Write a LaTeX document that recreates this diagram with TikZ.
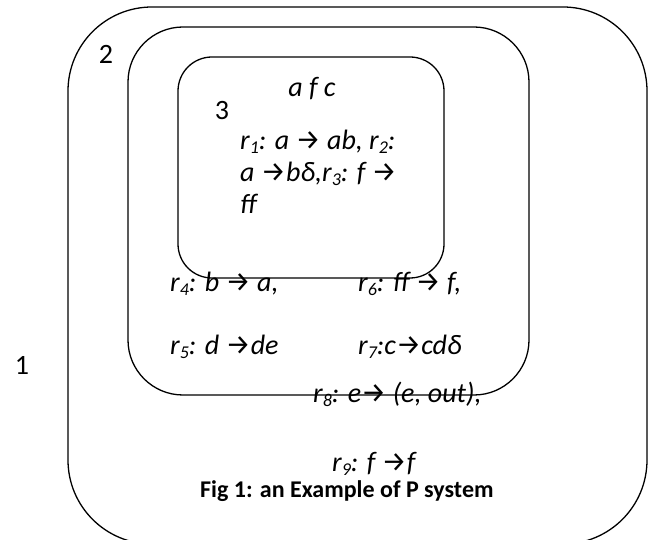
\documentclass[tikz,border=0pt]{standalone}
\usepackage{fontspec}
\setmainfont{Carlito}
\newfontfamily\arrowfont{Fira Sans}
\usetikzlibrary{positioning}
\newcommand{\rarr}{{\upshape\arrowfont\fontsize{28}{30}\selectfont →}}
\newcommand{\rsub}[1]{\raisebox{-4pt}{\fontsize{18}{18}\selectfont #1}}

\begin{document}
\begin{tikzpicture}[
  x=1pt, y=-1pt,
  membrane/.style={draw, line width=1.3pt, rounded corners=#1},
  memlabel/.style={anchor=base, inner sep=0pt, font=\fontsize{28}{32}\selectfont},
  ruletext/.style={anchor=base west, inner sep=0pt, font=\fontsize{28}{32}\selectfont\itshape},
  figcaption/.style={anchor=base west, inner sep=0pt, font=\fontsize{24}{28}\selectfont\bfseries}
]
\useasboundingbox (0,0) rectangle (649,540);
% membranes
\draw[membrane=84pt] (68,7) rectangle (647,544);
\draw[membrane=55pt] (128,27) rectangle (529,395);
\draw[membrane=34pt] (178,57) rectangle (444,278);

\node[memlabel] (m1) at (22,375) {1};
\node[memlabel] (m2) at (106,64) {2};
\node[memlabel] (m3) at (222,120) {3};

% membrane 3
\node[ruletext, anchor=base] (obj3) at (312,97) {a f c};
\node[ruletext] (rl1) at (240,150) {r\rsub{1}: a \rarr{} ab, r\rsub{2}:};
\node[ruletext] (rl2) at (240,182) {a \rarr{}\itshape bδ,r\rsub{3}: f \rarr};
\node[ruletext] (rl3) at (240,214) {ff};

% membrane 2
\node[ruletext] (r4) at (170,292) {r\rsub{4}: b \rarr{} a,};
\node[ruletext] (r6) at (358,292) {r\rsub{6}: ff \rarr{} f,};
\node[ruletext] (r5) at (170,355) {r\rsub{5}: d \rarr{}de};
\node[ruletext] (r7) at (358,355) {r\rsub{7}:c\rarr{}cdδ};

% membrane 1
\node[ruletext] (r8) at (313,403) {r\rsub{8}: e\rarr{} (e, out),};
\node[ruletext] (r9) at (332,472) {r\rsub{9}: f \rarr{}f};
\node[figcaption] (cap) at (200,498) {Fig 1: an Example of P system};
\end{tikzpicture}
\end{document}
